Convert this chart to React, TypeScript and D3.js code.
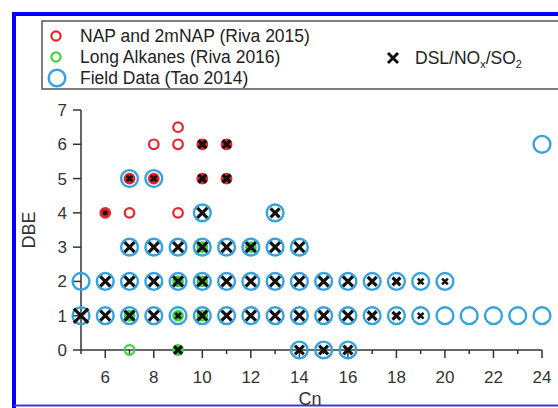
import React from "react";
import * as d3 from "d3";

// NAP and 2mNAP (Riva 2015)
const napPoints: [number, number][] = [
  [6, 4], [7, 4], [9, 4],
  [7, 5], [8, 5], [10, 5], [11, 5],
  [8, 6], [9, 6], [10, 6], [11, 6],
  [9, 6.5],
];

// Long Alkanes (Riva 2016)
const alkanePoints: [number, number][] = [
  [7, 0], [9, 0],
  [7, 1], [9, 1], [10, 1],
  [9, 2], [10, 2],
  [10, 3], [12, 3],
];

// Field Data (Tao 2014)
const fieldPoints: [number, number][] = [
  [14, 0], [15, 0], [16, 0],
  [5, 1], [6, 1], [7, 1], [8, 1], [9, 1], [10, 1], [11, 1], [12, 1], [13, 1], [14, 1],
  [15, 1], [16, 1], [17, 1], [18, 1], [19, 1], [20, 1], [21, 1], [22, 1], [23, 1], [24, 1],
  [5, 2], [6, 2], [7, 2], [8, 2], [9, 2], [10, 2], [11, 2], [12, 2], [13, 2], [14, 2],
  [15, 2], [16, 2], [17, 2], [18, 2], [19, 2], [20, 2],
  [7, 3], [8, 3], [9, 3], [10, 3], [11, 3], [12, 3], [13, 3], [14, 3],
  [10, 4], [13, 4],
  [7, 5], [8, 5],
  [24, 6],
];

// DSL/NOx/SO2 : [Cn, DBE, marker weight]
const dslPoints: [number, number, number][] = [
  [9, 0, 3], [14, 0, 3.5], [15, 0, 3.5], [16, 0, 3.5],
  [5, 1, 5], [6, 1, 4], [7, 1, 4], [8, 1, 4], [9, 1, 2], [10, 1, 4], [11, 1, 4], [12, 1, 4],
  [13, 1, 4], [14, 1, 4], [15, 1, 4], [16, 1, 4], [17, 1, 3.5], [18, 1, 3], [19, 1, 2],
  [6, 2, 4], [7, 2, 4], [8, 2, 4], [9, 2, 4], [10, 2, 4], [11, 2, 4], [12, 2, 4],
  [13, 2, 4], [14, 2, 4], [15, 2, 4], [16, 2, 4], [17, 2, 3.5], [18, 2, 3], [19, 2, 2], [20, 2, 2],
  [7, 3, 4], [8, 3, 4], [9, 3, 4], [10, 3, 4], [11, 3, 4], [12, 3, 4], [13, 3, 4], [14, 3, 4],
  [6, 4, 1], [10, 4, 4], [13, 4, 3.5],
  [7, 5, 2], [8, 5, 2], [10, 5, 3], [11, 5, 3],
  [10, 6, 3], [11, 6, 3],
];

const yTicks = [0, 1, 2, 3, 4, 5, 6, 7];
const xMajorTicks = [6, 8, 10, 12, 14, 16, 18, 20, 22, 24];
const xMinorTicks = [5, 7, 9, 11, 13, 15, 17, 19, 21, 23];

const RED = "#e8232b";
const GREEN = "#3fd03f";
const BLUE = "#34a2e0";
const AXIS = "#333";
const FONT = "'Liberation Sans', Arial, sans-serif";

const W = 558;
const H = 408;

const XMark = ({ cx, cy, s, w = 3.2 }: { cx: number; cy: number; s: number; w?: number }) => (
  <path
    d={`M${cx - s},${cy - s}L${cx + s},${cy + s}M${cx - s},${cy + s}L${cx + s},${cy - s}`}
    stroke="#111"
    strokeWidth={w}
    strokeLinecap="butt"
  />
);

export default function App() {
  const x = d3.scaleLinear().domain([5, 24]).range([81, 542]);
  const y = d3.scaleLinear().domain([0, 7]).range([350, 110]);
  const markSize = d3.scaleLinear().domain([1, 4, 5]).range([1.8, 5, 7.2]);

  const hasX = (cx: number, cy: number) => dslPoints.some((d) => d[0] === cx && d[1] === cy);

  return (
    <svg
      width={W}
      height={H}
      style={{ position: "absolute", left: 0, top: 0, background: "#fff" }}
      fontFamily={FONT}
    >
      {/* blue frame */}
      <rect x={0} y={0} width={W} height={H} fill="#fff" />
      <line x1={14} x2={W} y1={14} y2={14} stroke="#0000ff" strokeWidth={4} />
      <line x1={14} x2={14} y1={12} y2={H} stroke="#0000ff" strokeWidth={4} />
      <line x1={14} x2={W} y1={405.5} y2={405.5} stroke="#3a3ad8" strokeWidth={2} />

      {/* legend */}
      <rect x={42} y={21} width={W} height={68} fill="none" stroke="#555" strokeWidth={1.5} />
      <g fontSize={17.5} fill="#222">
        <circle cx={56} cy={36} r={4.6} fill="none" stroke={RED} strokeWidth={2.2} />
        <text x={80} y={42}>NAP and 2mNAP (Riva 2015)</text>
        <circle cx={56} cy={57} r={4.6} fill="none" stroke={GREEN} strokeWidth={2.2} />
        <text x={80} y={63}>Long Alkanes (Riva 2016)</text>
        <circle cx={57} cy={78} r={8.3} fill="none" stroke={BLUE} strokeWidth={2.4} />
        <text x={80} y={84}>Field Data (Tao 2014)</text>
        <XMark cx={393} cy={58} s={5} w={3} />
        <text x={415} y={64}>
          DSL/NO<tspan fontSize={11} dy={4}>x</tspan>
          <tspan dy={-4}>/SO</tspan>
          <tspan fontSize={11} dy={4}>2</tspan>
        </text>
      </g>

      {/* axes */}
      <g stroke={AXIS} strokeWidth={1.5}>
        <line x1={x(5)} x2={x(5)} y1={y(7)} y2={y(0)} />
        <line x1={x(5)} x2={x(24)} y1={y(0)} y2={y(0)} />
        {yTicks.map((t) => (
          <line key={`yt${t}`} x1={x(5) - 8} x2={x(5)} y1={y(t)} y2={y(t)} />
        ))}
        {xMajorTicks.map((t) => (
          <line key={`xt${t}`} x1={x(t)} x2={x(t)} y1={y(0)} y2={y(0) + 8} />
        ))}
        {xMinorTicks.map((t) => (
          <line key={`xm${t}`} x1={x(t)} x2={x(t)} y1={y(0)} y2={y(0) + 4} />
        ))}
      </g>
      <g fontSize={17} fill={AXIS} textAnchor="end">
        {yTicks.map((t) => (
          <text key={`yl${t}`} x={x(5) - 14} y={y(t) + 6}>
            {t}
          </text>
        ))}
      </g>
      <g fontSize={17} fill={AXIS} textAnchor="middle">
        {xMajorTicks.map((t) => (
          <text key={`xl${t}`} x={x(t)} y={y(0) + 33}>
            {t}
          </text>
        ))}
      </g>
      <text x={310} y={405} fontSize={18} fill={AXIS} textAnchor="middle">
        Cn
      </text>
      <text
        transform={`translate(35,${y(3.5)}) rotate(-90)`}
        fontSize={18}
        fill={AXIS}
        textAnchor="middle"
      >
        DBE
      </text>

      {/* field data */}
      {fieldPoints.map(([cn, dbe], i) => (
        <circle key={`f${i}`} cx={x(cn)} cy={y(dbe)} r={8.4} fill="none" stroke={BLUE} strokeWidth={2.4} />
      ))}
      {/* alkanes */}
      {alkanePoints.map(([cn, dbe], i) => (
        <circle
          key={`a${i}`}
          cx={x(cn)}
          cy={y(dbe)}
          r={4.8}
          fill={hasX(cn, dbe) ? GREEN : "none"}
          stroke={GREEN}
          strokeWidth={2.2}
        />
      ))}
      {/* NAP */}
      {napPoints.map(([cn, dbe], i) => (
        <circle
          key={`n${i}`}
          cx={x(cn)}
          cy={y(dbe)}
          r={4.8}
          fill={hasX(cn, dbe) ? "#c4262c" : "none"}
          stroke={RED}
          strokeWidth={2.2}
        />
      ))}
      {/* DSL */}
      {dslPoints.map(([cn, dbe, w], i) => (
        <XMark key={`d${i}`} cx={x(cn)} cy={y(dbe)} s={markSize(w)} w={w < 2.5 ? 2.6 : 3.2} />
      ))}
    </svg>
  );
}
